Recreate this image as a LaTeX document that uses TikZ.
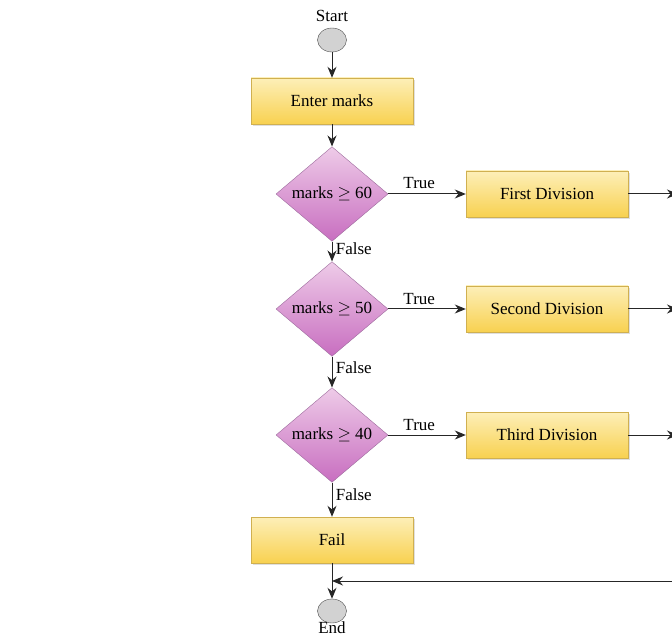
\documentclass[tikz,border=0pt]{standalone}
\usepackage{fontspec}
\setmainfont{Liberation Serif}
\usetikzlibrary{shapes.geometric,arrows.meta,shadows}
\definecolor{BoxTop}{HTML}{FDEFB8}
\definecolor{BoxBot}{HTML}{F8D150}
\definecolor{BoxLine}{HTML}{D0B050}
\definecolor{DecTop}{HTML}{EECBE8}
\definecolor{DecBot}{HTML}{C86EC0}
\definecolor{DecLine}{HTML}{9C6A9C}
\definecolor{EndFill}{HTML}{D2D2D2}

\begin{document}
\begin{tikzpicture}[x=1pt,y=-1pt,
    font=\fontsize{17}{20}\selectfont,
    box/.style={rectangle,draw=BoxLine,top color=BoxTop,bottom color=BoxBot,
        minimum width=162pt,minimum height=46pt,inner sep=0pt,
        drop shadow={opacity=0.25,shadow xshift=2pt,shadow yshift=-2pt}},
    test/.style={diamond,draw=DecLine,top color=DecTop,bottom color=DecBot,
        minimum width=112pt,minimum height=91pt,inner sep=0pt},
    term/.style={ellipse,draw=black!70,fill=EndFill,minimum width=29pt,
        minimum height=24pt,inner sep=0pt},
    line/.style={draw=black!85,line width=1pt},
    arr/.style={line,-{Stealth[length=11pt,width=9pt]}}]
        \useasboundingbox (0,0) rectangle (672,636);

        \node[term] (start) at (332,40) {};
        \node (startlbl) at (332,16) {Start};

        \node[box] (enter) at (332,101) {Enter marks};

        \node[test] (d1) at (332,194) {marks $\geq$ 60};
        \node[box] (first) at (547,194) {First Division};

        \node[test] (d2) at (332,309) {marks $\geq$ 50};
        \node[box] (second) at (547,309) {Second Division};

        \node[test] (d3) at (332,435) {marks $\geq$ 40};
        \node[box] (third) at (547,435) {Third Division};

        \node[box] (fail) at (332,540) {Fail};

        \node[term] (end) at (332,611) {};
        \node (endlbl) at (332,628) {End};

        % free ends at the right border
        \coordinate (r1) at (678,194);
        \coordinate (r2) at (678,309);
        \coordinate (r3) at (678,435);
        \coordinate (back) at (672,581);
        \coordinate (join) at (332,581);

        \draw[arr] (start) -- (enter);
        \draw[arr] (enter) -- (d1);
        \draw[arr] (d1) -- node[above=1pt,pos=0.4] {True} (first);
        \draw[arr] (d1) -- node[right,pos=0.35] {False} (d2);
        \draw[arr] (d2) -- node[above=1pt,pos=0.4] {True} (second);
        \draw[arr] (d2) -- node[right,pos=0.35] {False} (d3);
        \draw[arr] (d3) -- node[above=1pt,pos=0.4] {True} (third);
        \draw[arr] (d3) -- node[right,pos=0.35] {False} (fail);
        \draw[arr] (fail) -- (end);

        \draw[arr] (first) -- (r1);
        \draw[arr] (second) -- (r2);
        \draw[arr] (third) -- (r3);
        \draw[arr] (back) -- (join);
\end{tikzpicture}
\end{document}
